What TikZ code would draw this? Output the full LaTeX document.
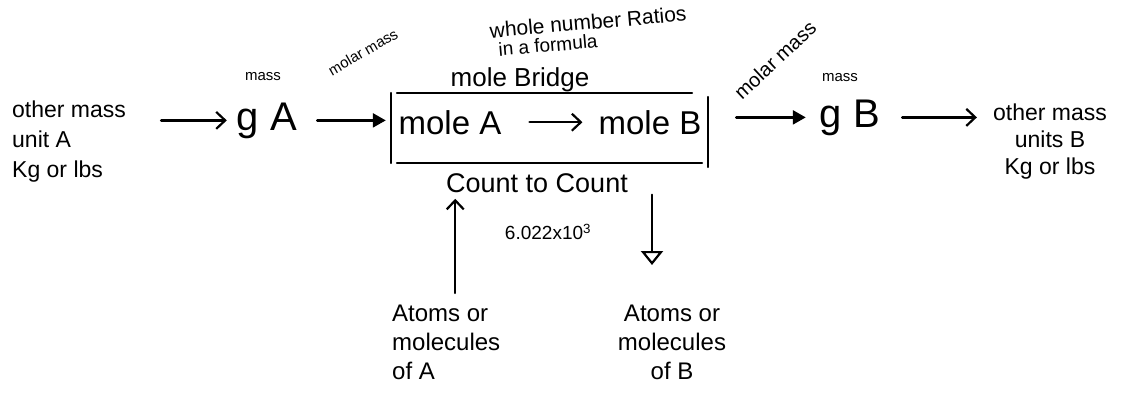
\documentclass[tikz,border=0pt]{standalone}
\usepackage{fontspec}
\setmainfont{Liberation Sans}
\usetikzlibrary{arrows.meta}
\begin{document}
\begin{tikzpicture}[x=1pt,y=-1pt,
  txt/.style={inner sep=0pt, text=black},
  conn/.style={line width=2.4pt, line cap=round},
  openarr/.style={conn, -{Straight Barb[length=9pt,width=17pt,line width=2.2pt]}},
  fillarr/.style={conn, -{Triangle[length=13pt,width=14pt]}},
  trarr/.style={conn, -{Triangle[open,length=14pt,width=22pt,line width=2.2pt]}},
  boxline/.style={line width=1.8pt, line cap=round}]
\useasboundingbox (0,0) rectangle (1128,394);

% left mass units
\node[txt, anchor=west, align=left, font=\fontsize{23}{30}\selectfont] (otherA) at (12,142) {other mass\\unit A\\Kg or lbs};

% g A
\node[txt, anchor=base, font=\fontsize{40}{44}\selectfont] (gA) at (267,130) {g A};
\node[txt, font=\fontsize{15}{17}\selectfont] (massA) at (263,77) {mass};
\node[txt, rotate=30, font=\fontsize{15}{17}\selectfont] (molarA) at (363,52) {molar mass};

% mole bridge box
\node[inner sep=0pt, minimum width=317pt, minimum height=70pt] (box) at (549.5,128) {};
\draw[boxline] (box.north west) -- (box.south west);
\draw[boxline] ([xshift=6pt]box.north west) -- ([xshift=-16pt]box.north east);
\draw[boxline] ([xshift=6pt]box.south west) -- ([xshift=-6pt]box.south east);
\draw[boxline] ([yshift=-4pt]box.north east) -- ([yshift=-4pt]box.south east);

\node[txt, anchor=base, font=\fontsize{33}{36}\selectfont] (moleA) at (450,134) {mole A};
\node[txt, anchor=base, font=\fontsize{33}{36}\selectfont] (moleB) at (650,134) {mole B};

\node[txt, font=\fontsize{26}{30}\selectfont] (bridge) at (520,80) {mole Bridge};
\node[txt, rotate=5, font=\fontsize{21}{24}\selectfont] (whole) at (588,22) {whole number Ratios};
\node[txt, rotate=5, font=\fontsize{19}{22}\selectfont] (formula) at (548,45) {in a formula};
\node[txt, font=\fontsize{27}{30}\selectfont] (count) at (537,183) {Count to Count};
\node[txt, font=\fontsize{19}{22}\selectfont] (avo) at (548,232) {6.022x10\textsuperscript{3}};

% atoms / molecules
\node[txt, anchor=north west, align=left, font=\fontsize{24}{29}\selectfont] (atomsA) at (392,305) {Atoms or\\molecules\\of A};
\node[txt, anchor=north, align=center, font=\fontsize{24}{29}\selectfont] (atomsB) at (672,305) {Atoms or\\molecules\\of B};

% right side
\node[txt, rotate=43, font=\fontsize{20}{22}\selectfont] (molarB) at (775,60) {molar mass};
\node[txt, font=\fontsize{15}{17}\selectfont] (massB) at (840,78) {mass};
\node[txt, anchor=base, font=\fontsize{40}{44}\selectfont] (gB) at (850,127) {g B};
\node[txt, anchor=center, align=center, font=\fontsize{23}{27}\selectfont] (otherB) at (1050,142) {other mass\\units B\\Kg or lbs};

% connectors
\draw[openarr, shorten <=35pt, shorten >=10pt] (otherA.east |- gA.west) -- (gA.west);
\draw[fillarr, shorten <=20pt, shorten >=5pt] (gA.east) -- (box.west |- gA.east);
\draw[openarr, shorten <=28pt, shorten >=16pt] (moleA.east) -- (moleB.west);
\draw[fillarr, shorten <=28pt, shorten >=14pt] (box.east |- gB.west) -- (gB.west);
\draw[openarr, shorten <=22pt, shorten >=16pt] (gB.east) -- (otherB.west |- gB.east);
\draw[openarr, shorten <=12pt, shorten >=6pt] ([xshift=9pt]atomsA.north) -- ([xshift=9pt]atomsA.north |- count.south);
\draw[trarr, shorten <=2pt, shorten >=40pt] ([xshift=-20pt]atomsB.north |- count.south) -- ([xshift=-20pt]atomsB.north);
\end{tikzpicture}
\end{document}
